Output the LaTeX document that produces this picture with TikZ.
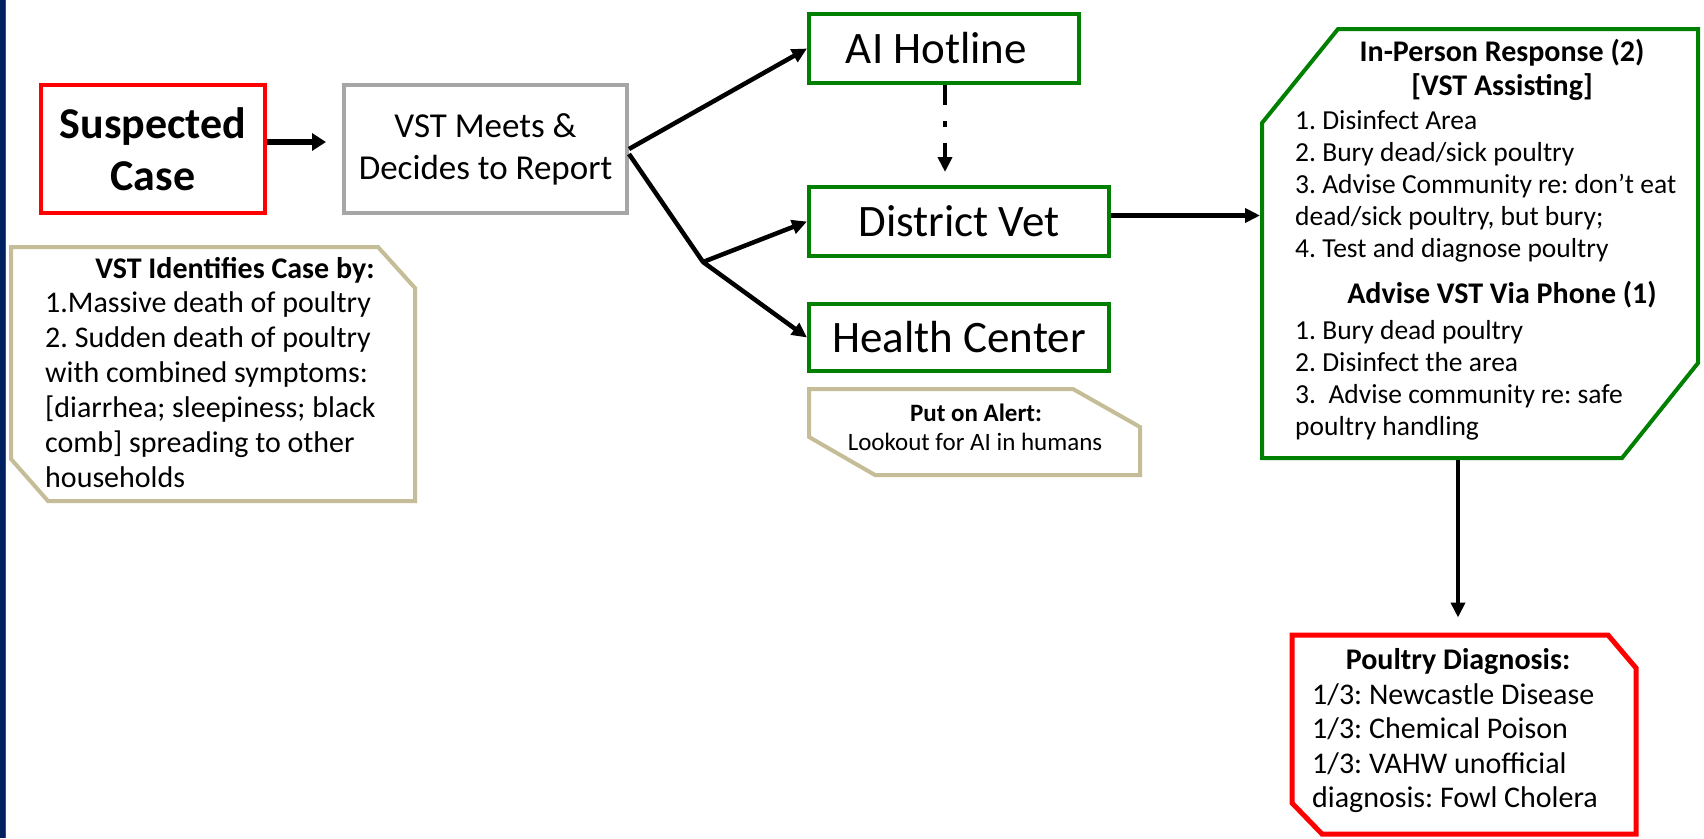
\documentclass[tikz,border=0pt]{standalone}
\usepackage{fontspec}
\setmainfont{Carlito}
\usetikzlibrary{arrows.meta,calc}
\definecolor{tanc}{RGB}{196,189,151}
\definecolor{grn}{RGB}{0,128,0}
\definecolor{navyc}{RGB}{0,32,96}
\definecolor{grayc}{RGB}{166,166,166}
\frenchspacing
\begin{document}
\begin{tikzpicture}[x=1pt,y=-1pt,
  box/.style={draw, line width=4pt, inner sep=0pt, align=center, rectangle},
  area/.style={inner sep=0pt, rectangle},
  poly/.style={line width=4pt, fill=white},
  arr/.style={line width=4.5pt, line join=round, -{Triangle[length=15pt,width=14pt]}},
  arrbig/.style={line width=6pt, -{Triangle[length=14pt,width=17pt]}},
  bodytxt/.style={anchor=north west, align=left, inner sep=0pt},
]
\useasboundingbox (0,0) rectangle (1704,838);
\fill[white] (0,0) rectangle (1704,838);
\fill[navyc] (0,0) rectangle (5,838);
\draw[line width=1pt, black!70] (5.5,0) -- (5.5,838);

% main boxes
\node[box, draw=red, minimum width=224pt, minimum height=128pt, font=\fontsize{44}{52}\selectfont\bfseries] (sus) at (153,149) {Suspected\\Case};
\node[box, draw=grayc, minimum width=283pt, minimum height=128pt, font=\fontsize{35}{42}\selectfont] (vst) at (485.5,149) {VST Meets \&\\Decides to Report};
\node[box, draw=grn, minimum width=270pt, minimum height=69pt, font=\fontsize{45}{54}\selectfont] (hot) at (944,48.5) {AI Hotline\hspace{15pt}};
\node[box, draw=grn, minimum width=300pt, minimum height=69pt, font=\fontsize{45}{54}\selectfont] (dv) at (959,221.5) {District Vet};
\node[box, draw=grn, minimum width=300pt, minimum height=67pt, font=\fontsize{45}{54}\selectfont] (hc) at (959,337.5) {Health Center};

% VST identifies box
\draw[poly, draw=tanc] (11,247) -- (378,247) -- (415,288) -- (415,501) -- (48,501) -- (11,459) -- cycle;
\node[font=\fontsize{30}{36}\selectfont\bfseries] (vstit) at (235,270) {VST Identifies Case by:};
\node[bodytxt, font=\fontsize{30}{35}\selectfont] (vstib) at (45,291) {1.Massive death of poultry\\2. Sudden death of poultry\\with combined symptoms:\\{}[diarrhea; sleepiness; black\\comb] spreading to other\\households};

% Put on alert box
\draw[poly, draw=tanc] (809,389) -- (1073,389) -- (1140,427) -- (1140,475) -- (875,475) -- (809,437) -- cycle;
\node[font=\fontsize{25}{30}\selectfont\bfseries] (alt) at (976,413) {Put on Alert:};
\node[font=\fontsize{25}{30}\selectfont] (alb) at (975,442) {Lookout for AI in humans};

% In-person response box
\draw[poly, draw=grn] (1338,29) -- (1698,29) -- (1698,363) -- (1622,458) -- (1262,458) -- (1262,123) -- cycle;
\node[area, outer sep=2pt, minimum width=436pt, minimum height=429pt] (ip) at (1480,243.5) {};
\node[font=\fontsize{30}{34}\selectfont\bfseries, align=center] (ipt) at (1502,70) {In-Person Response (2)\\{}[VST Assisting]};
\node[bodytxt, font=\fontsize{27.5}{32}\selectfont] (ipb) at (1295,110) {1. Disinfect Area\\2. Bury dead/sick poultry\\3. Advise Community re: don’t eat\\dead/sick poultry, but bury;\\4. Test and diagnose poultry};
\node[font=\fontsize{30}{34}\selectfont\bfseries] (ipt2) at (1502,295) {Advise VST Via Phone (1)};
\node[bodytxt, font=\fontsize{27.5}{32}\selectfont] (ipb2) at (1295,320) {1. Bury dead poultry\\2. Disinfect the area\\3.\ \ Advise community re: safe\\poultry handling};

% Poultry diagnosis box
\draw[poly, line width=5pt, draw=red] (1292,635) -- (1608,635) -- (1636,668) -- (1636,834) -- (1322,834) -- (1292,803) -- cycle;
\node[area, outer sep=2.5pt, minimum width=344pt, minimum height=199pt] (pd) at (1464,734.5) {};
\node[font=\fontsize{30}{34}\selectfont\bfseries] (pdt) at (1458,662) {Poultry Diagnosis:};
\node[bodytxt, font=\fontsize{30}{34.5}\selectfont] (pdb) at (1312,683) {1/3: Newcastle Disease\\1/3: Chemical Poison\\1/3: VAHW unofficial\\diagnosis: Fowl Cholera};

% connectors
\coordinate (j) at (703,262);
\draw[arrbig, shorten >=16pt] ([yshift=7pt]sus.east) -- ([yshift=7pt]vst.west);
\draw[arr] (vst.east) -- (hot.west);
\draw[arr] ([yshift=-5pt]vst.east) -- (j) -- (dv.west);
\draw[arr] (j) -- (hc.west);
\draw[arr, dash pattern=on 20pt off 16pt on 6pt off 16pt, shorten >=13pt] ([xshift=1pt]hot.south) -- ([xshift=1pt]hot.south |- dv.north);
\draw[arr] ([yshift=6pt]dv.east) -- ([yshift=6pt]dv.east -| ip.west);
\draw[arr, shorten >=15pt] ([xshift=-22pt]ip.south) -- ([xshift=-6pt]pd.north);
\end{tikzpicture}
\end{document}
